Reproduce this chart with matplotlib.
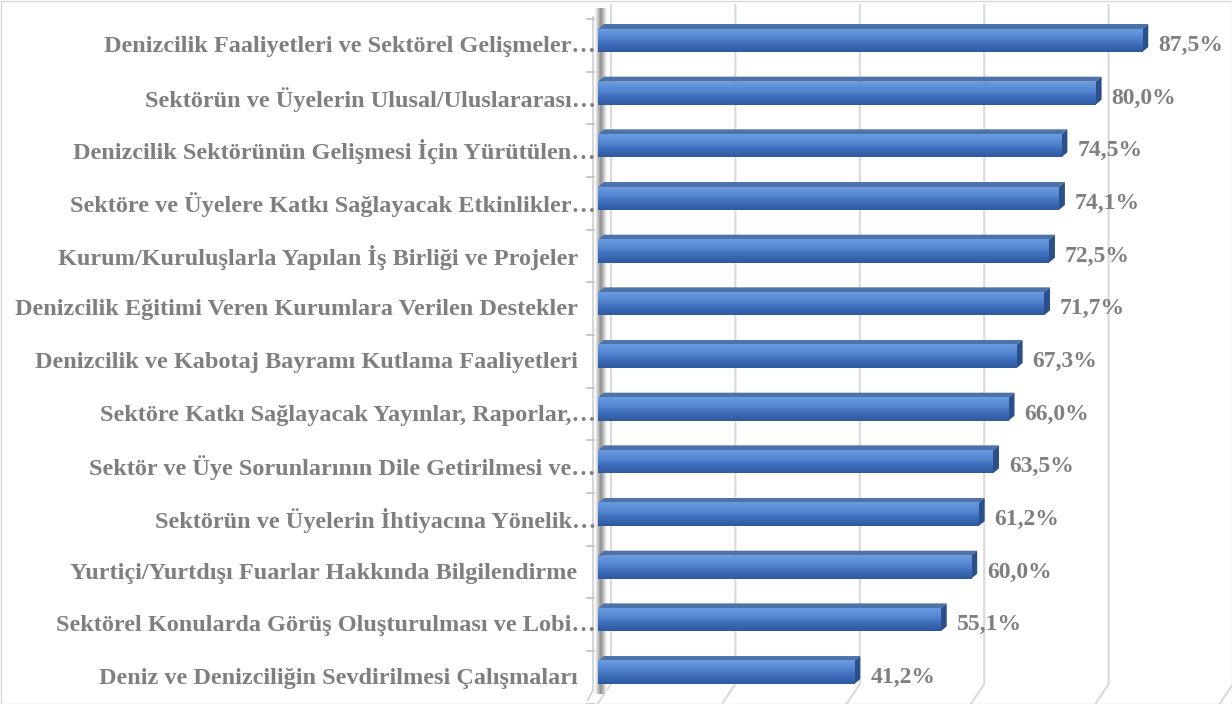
import numpy as np
import matplotlib.pyplot as plt
from matplotlib.colors import LinearSegmentedColormap
from matplotlib.patches import Polygon

categories = [
    'Denizcilik Faaliyetleri ve Sektörel Gelişmeler…',
    'Sektörün ve Üyelerin Ulusal/Uluslararası…',
    'Denizcilik Sektörünün Gelişmesi İçin Yürütülen…',
    'Sektöre ve Üyelere Katkı Sağlayacak Etkinlikler…',
    'Kurum/Kuruluşlarla Yapılan İş Birliği ve Projeler   ',
    'Denizcilik Eğitimi Veren Kurumlara Verilen Destekler   ',
    'Denizcilik ve Kabotaj Bayramı Kutlama Faaliyetleri   ',
    'Sektöre Katkı Sağlayacak Yayınlar, Raporlar,…',
    'Sektör ve Üye Sorunlarının Dile Getirilmesi ve…',
    'Sektörün ve Üyelerin İhtiyacına Yönelik…',
    'Yurtiçi/Yurtdışı Fuarlar Hakkında Bilgilendirme   ',
    'Sektörel Konularda Görüş Oluşturulması ve Lobi…',
    'Deniz ve Denizciliğin Sevdirilmesi Çalışmaları   ',
]
values = [87.5, 80.0, 74.5, 74.1, 72.5, 71.7, 67.3, 66.0, 63.5, 61.2, 60.0, 55.1, 41.2]
grid_values = [0, 20, 40, 60, 80, 100]

W, H = 1232, 704
ppu = 6.22        # pixels per percent
row = 52.67       # pixels per category
y0 = 40.5         # pixel y of first bar centre
zero_px = 598     # pixel x of value 0
ax_left = 540

def px_x(px):
    return (px - zero_px) / ppu

def px_y(px):
    return (px - y0) / row

plt.rcParams['font.family'] = ['Liberation Serif', 'DejaVu Serif']
txt_color = '#7f7f7f'

fig = plt.figure(figsize=(W / 100, H / 100), dpi=100)
ax = fig.add_axes([ax_left / W, 0, 1 - ax_left / W, 1])
ax.axis('off')

# back-wall gridlines bending onto the floor
for g in grid_values:
    xb = g + 13 / ppu
    ax.plot([xb, xb, xb - 16 / ppu], [px_y(4), px_y(684), px_y(708)],
            color='#d9d9d9', lw=1.5, zorder=0, solid_capstyle='butt')

# side wall shadow
wall_cmap = LinearSegmentedColormap.from_list('wall', ['#ffffff', '#c4c4c4', '#8c8c8c', '#c8c8c8', '#ffffff'])
ax.imshow(np.linspace(0, 1, 64).reshape(1, -1), cmap=wall_cmap, aspect='auto',
          extent=(px_x(595), px_x(607), px_y(694), px_y(8)), zorder=1, interpolation='bicubic')
ax.plot([px_x(593), px_x(593), px_x(588)], [px_y(17), px_y(690), px_y(700)],
        color='#d0d0d0', lw=1.2, zorder=1)
for i in range(len(values) + 1):
    ax.plot([px_x(587), px_x(594)], [i + px_y(19), i + px_y(19)], color='#bfbfbf', lw=1.2, zorder=1)

face_cmap = LinearSegmentedColormap.from_list('face', ['#6a9be0', '#5689d3', '#3d6cba', '#2f5a9f'])
h = 23 / row
dx = 6 / ppu
dy = 5 / row
for i, v in enumerate(values):
    top, bot = i - h / 2, i + h / 2
    # top face
    ax.add_patch(Polygon([(0, top), (v, top), (v + dx, top - dy), (dx, top - dy)],
                         closed=True, facecolor='#4d72aa', edgecolor='none', zorder=3))
    # right side face
    ax.add_patch(Polygon([(v, top), (v + dx, top - dy), (v + dx, bot - dy), (v, bot)],
                         closed=True, facecolor='#2b4f88', edgecolor='none', zorder=3))
    # front face gradient
    ax.imshow(np.linspace(0, 1, 32).reshape(-1, 1), cmap=face_cmap, aspect='auto',
              extent=(0, v, bot, top), zorder=4, interpolation='bicubic')
    ax.text(v + 16 / ppu, i + 5 / row, f'{v:.1f}'.replace('.', ',') + '%',
            ha='left', va='center', fontsize=17, fontweight='bold', color=txt_color, zorder=5)
    ax.text(px_x(596), i + 6 / row, categories[i], ha='right', va='center',
            fontsize=17.5, fontweight='bold', color=txt_color, zorder=5, clip_on=False)

ax.set_xlim(px_x(ax_left), px_x(W))
ax.set_ylim(px_y(H), px_y(0))

# chart border
fig.patches.append(plt.Rectangle((0.5 / W, 0.5 / H), 1 - 1 / W, 1 - 1 / H, transform=fig.transFigure,
                                 fill=False, edgecolor='#d9d9d9', lw=1))

fig.savefig('out.png', dpi=100)
